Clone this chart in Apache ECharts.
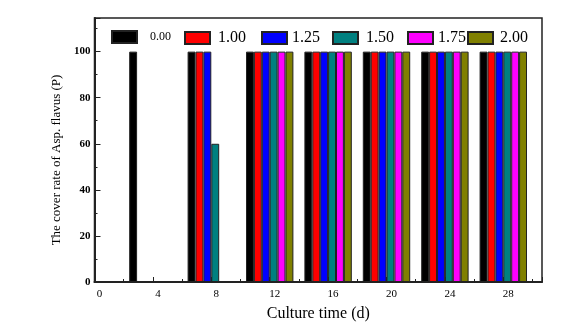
<!DOCTYPE html>
<html>
<head>
<meta charset="utf-8">
<script src="https://cdn.jsdelivr.net/npm/echarts@6/dist/echarts.min.js"></script>
<style>
html,body{margin:0;padding:0;background:#fff;}
#chart{width:570px;height:333px;}
</style>
</head>
<body>
<div id="chart"></div>
<script>
// Culture days (x values)
var days = [4, 8, 12, 16, 20, 24, 28];
// Series names (concentrations)
var seriesNames = ['0.00', '1.00', '1.25', '1.50', '1.75', '2.00'];
// Cover rate values per series, aligned with days (null = no bar)
var s000 = [100, 100, 100, 100, 100, 100, 100];
var s100 = [null, 100, 100, 100, 100, 100, 100];
var s125 = [null, 100, 100, 100, 100, 100, 100];
var s150 = [null, 60, 100, 100, 100, 100, 100];
var s175 = [null, null, 100, 100, 100, 100, 100];
var s200 = [null, null, 100, 100, 100, 100, 100];
var xTicks = [0, 4, 8, 12, 16, 20, 24, 28];
var yTicks = [0, 20, 40, 60, 80, 100];

var values = [s000, s100, s125, s150, s175, s200];
var colors = ['#000000', '#ff0000', '#0000ff', '#008080', '#ff00ff', '#808000'];
var legendLeft = [111, 184, 261, 332, 407, 467];
var legendPad = [8, 3, 0, 3, 0, 2];
var legendFont = [12, 16, 16, 16, 16, 16];

var serif = '"Liberation Serif", "Times New Roman", serif';

var series = seriesNames.map(function (name, i) {
  return {
    name: name,
    type: 'bar',
    barWidth: 7.9,
    barGap: '0%',
    itemStyle: { color: colors[i], borderColor: '#222', borderWidth: 1 },
    data: days.map(function (d, j) {
      return values[i][j] == null ? null : [d, values[i][j]];
    }).filter(function (p) { return p !== null; })
  };
});

var legends = seriesNames.map(function (name, i) {
  return {
    data: [name],
    left: legendLeft[i],
    top: 30,
    padding: 0,
    itemWidth: 25,
    itemHeight: 12,
    icon: 'rect',
    selectedMode: false,
    textStyle: { fontFamily: serif, fontSize: legendFont[i], color: '#000', padding: [0, 0, 0, legendPad[i]] }
  };
});

var chart = echarts.init(document.getElementById('chart'), null, { renderer: 'canvas' });
chart.setOption({
  animation: false,
  backgroundColor: '#fff',
  legend: legends,
  grid: { left: 94.5, right: 28, top: 18, bottom: 51, show: true, borderColor: '#222', borderWidth: 1.5, containLabel: false },
  xAxis: {
    type: 'value',
    min: 0, max: 30.65, interval: 4,
    name: 'Culture time (d)',
    nameLocation: 'middle',
    nameGap: 24,
    nameTextStyle: { fontFamily: serif, fontSize: 16, color: '#000' },
    axisLine: { show: true, lineStyle: { color: '#222', width: 2 } },
    axisTick: { show: true, inside: true, length: 5, lineStyle: { color: '#222', width: 1 } },
    minorTick: { show: true, splitNumber: 2, length: 3, lineStyle: { color: '#222', width: 1 } },
    splitLine: { show: false },
    axisLabel: {
      fontFamily: serif, fontSize: 11, color: '#000', margin: 7,
      padding: [0, 0, 0, 10],
      customValues: xTicks
    }
  },
  yAxis: {
    type: 'value',
    min: 0, max: 114.6, interval: 20,
    name: 'The cover rate of Asp. flavus (P)',
    nameLocation: 'middle',
    nameGap: 31,
    nameTextStyle: { fontFamily: serif, fontSize: 13, color: '#000', padding: [0, 20, 0, 0] },
    axisLine: { show: true, lineStyle: { color: '#222', width: 2 } },
    axisTick: { show: true, inside: true, length: 6, lineStyle: { color: '#222', width: 1 } },
    minorTick: { show: true, splitNumber: 2, length: 3, lineStyle: { color: '#222', width: 1 } },
    splitLine: { show: false },
    axisLabel: {
      fontFamily: serif, fontSize: 11, fontWeight: 'bold', color: '#000', margin: 4,
      customValues: yTicks
    }
  },
  series: series
});
</script>
</body>
</html>
